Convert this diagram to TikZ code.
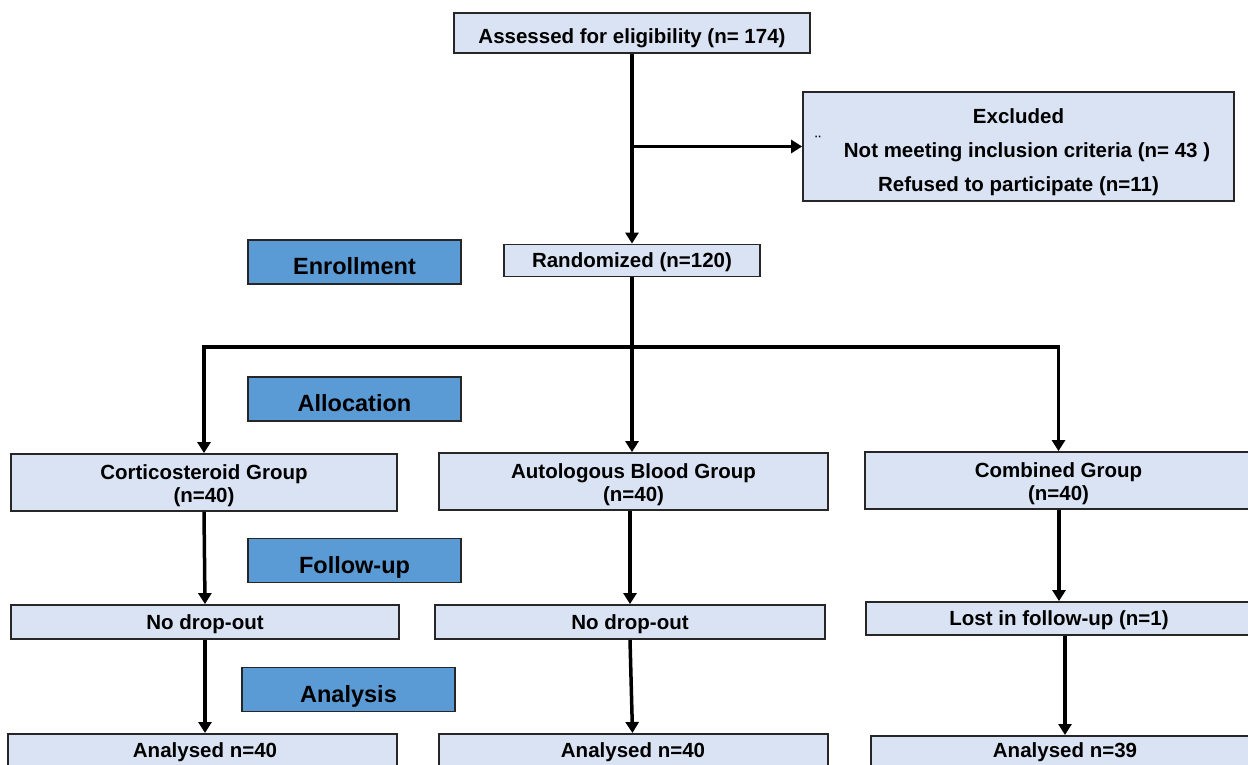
\documentclass[tikz,border=0pt]{standalone}
\usepackage{fontspec}
\setmainfont{Liberation Sans}
\usetikzlibrary{arrows.meta,calc}
\definecolor{lightbox}{HTML}{DAE3F3}
\definecolor{stagebox}{HTML}{5B9BD5}
\newcommand\onelinestrut{\rule[-5pt]{0pt}{24.8pt}}
\newcommand\stagestrut{\rule[-5pt]{0pt}{35.4pt}}
\newcommand\laststrut{\rule[-5pt]{0pt}{5pt}}
\begin{document}
\begin{tikzpicture}[x=1pt,y=-1pt,
  box/.style={draw=black!85, line width=1.8pt, fill=lightbox, inner sep=0pt, align=center,
    font=\fontsize{20.5}{23}\selectfont\bfseries},
  stage/.style={draw=black!85, line width=1.8pt, fill=stagebox, inner sep=0pt,
    minimum width=213pt, minimum height=44pt, font=\fontsize{23.5}{26}\selectfont\bfseries},
  lbl/.style={font=\fontsize{20.5}{23}\selectfont\bfseries, anchor=base, inner sep=0pt},
  arr/.style={line width=3.5pt, -{Triangle[width=13pt,length=11pt]}},
  ln/.style={line width=3.5pt}]
\useasboundingbox (0,0) rectangle (1248,765);
\clip (0,0) rectangle (1248,765);
\fill[white] (0,0) rectangle (1248,765);

\node[box, minimum width=356pt, minimum height=40pt] (assess) at (632,33) {\rule[-5pt]{0pt}{30.6pt}Assessed for eligibility (n= 174)};
\node[box, minimum width=431pt, minimum height=109pt, font=\fontsize{20.5}{34}\selectfont\bfseries] (excl) at (1018.5,146.5)
  {\rule{0pt}{26pt}Excluded\\ \ \ \ Not meeting inclusion criteria (n= 43 )\\Refused to participate (n=11)\laststrut};
\node[font=\fontsize{18}{18}\selectfont] (dots) at (818,142) {¨};

\node[stage] (enr) at (354.5,262) {\stagestrut Enrollment};
\node[box, minimum width=256pt, minimum height=32pt] (rand) at (632,260.5) {\onelinestrut Randomized (n=120)};

\node[stage] (alloc) at (354.5,399) {\stagestrut Allocation};

\node[box, minimum width=386pt, minimum height=57pt] (g1) at (204,482.5) {\rule{0pt}{21pt}Corticosteroid Group\\(n=40)\laststrut};
\node[box, minimum width=389pt, minimum height=57pt] (g2) at (633.5,481.5) {\rule{0pt}{21pt}Autologous Blood Group\\(n=40)\laststrut};
\node[box, minimum width=387pt, minimum height=57pt] (g3) at (1058.5,480.5) {\rule{0pt}{21pt}Combined Group\\(n=40)\laststrut};

\node[stage] (fu) at (354.5,560.5) {\stagestrut Follow-up};

\node[box, minimum width=388pt, minimum height=34pt] (d1) at (205,622) {\onelinestrut No drop-out};
\node[box, minimum width=390pt, minimum height=34pt] (d2) at (630,622) {\onelinestrut No drop-out};
\node[box, minimum width=386pt, minimum height=33pt] (d3) at (1059,618.5) {\onelinestrut Lost in follow-up (n=1)};

\node[stage] (ana) at (348.5,689.5) {\stagestrut Analysis};

\node[box, minimum width=389pt, minimum height=40pt, anchor=north] (a1) at (202.5,733) {};
\node[lbl] (a1t) at (205,757) {Analysed n=40};
\node[box, minimum width=389pt, minimum height=40pt, anchor=north] (a2) at (633.5,733) {};
\node[lbl] (a2t) at (633,757) {Analysed n=40};
\node[box, minimum width=381pt, minimum height=40pt, anchor=north] (a3) at (1061.5,735) {};
\node[lbl] (a3t) at (1065,757) {Analysed n=39};

% connectors
\draw[arr] (assess.south) -- (rand.north);
\draw[arr] (assess.south |- excl.west) -- (excl.west);
\coordinate (split) at (632,347);
\draw[ln] (rand.south) -- (split);
\draw[ln, line cap=rect] (split -| g1.north) -- (split -| g3.north);
\draw[arr] (split -| g1.north) -- (g1.north);
\draw[arr] (split) -- (split |- g2.north);
\draw[arr] (split -| g3.north) -- (g3.north);

\draw[arr] (g1.south) -- (d1.north);
\draw[arr] (d1.south) -- (d1.south |- a1.north);
\draw[arr] (g2.south -| d2.north) -- (d2.north);
\draw[arr] (d2.south) -- ($(a2.north)+(-1,0)$);
\draw[arr] (g3.south -| d3.north) -- (d3.north);
\draw[arr] ($(d3.south)+(6,0)$) -- ($(d3.south |- a3.north)+(6,0)$);
\end{tikzpicture}
\end{document}
